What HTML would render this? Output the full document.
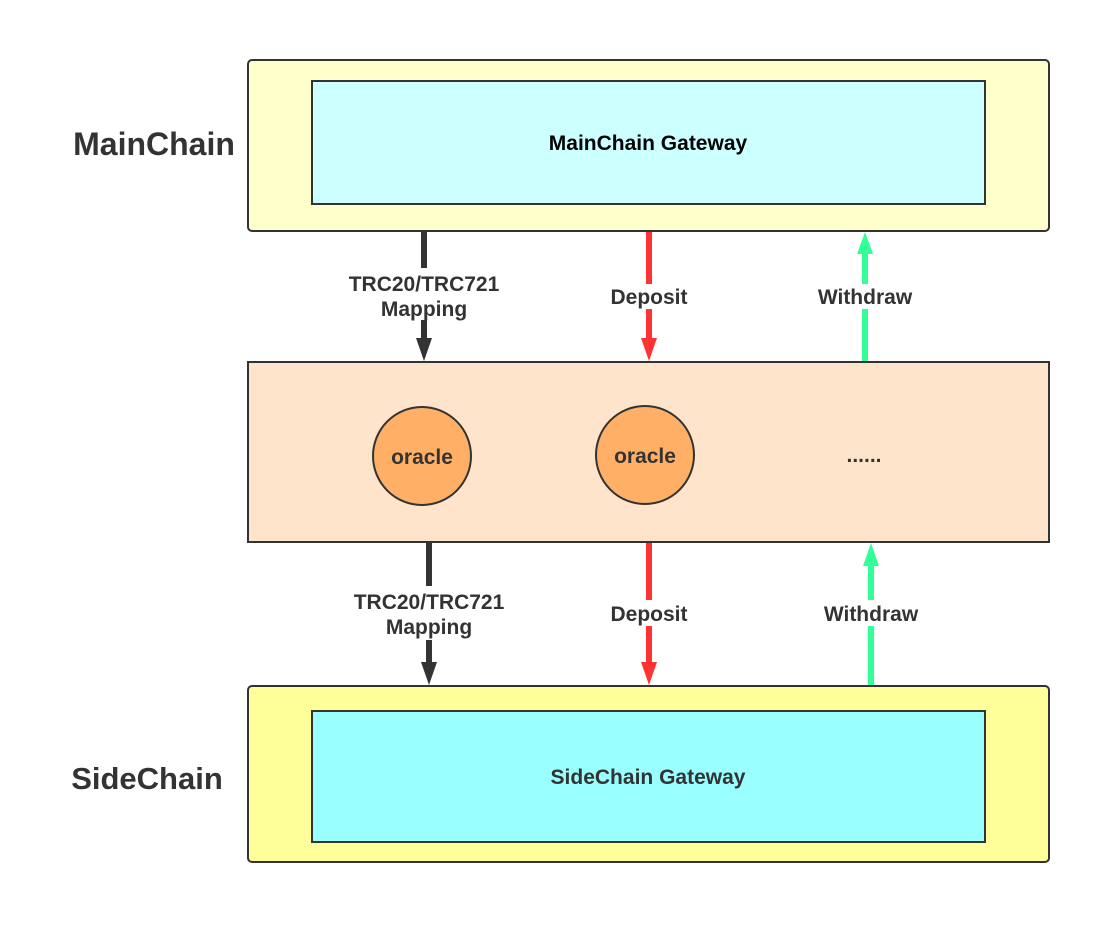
<!DOCTYPE html>
<html><head><meta charset="utf-8"><style>html,body{margin:0;padding:0;background:#fff}</style></head>
<body>
<svg width="1111" height="925" xmlns="http://www.w3.org/2000/svg" font-family="Liberation Sans, sans-serif" font-weight="bold">
<rect x="248" y="60" width="801" height="171" rx="4" fill="#ffffcc" stroke="#333" stroke-width="2"/>
<rect x="312" y="81" width="673" height="123" fill="#ccffff" stroke="#333" stroke-width="2"/>
<text x="648" y="150" font-size="21" text-anchor="middle" fill="#000">MainChain Gateway</text>
<text x="154" y="155" font-size="32" text-anchor="middle" fill="#333">MainChain</text>

<rect x="248" y="362" width="801" height="180" fill="#ffe4cc" stroke="#333" stroke-width="2"/>
<ellipse cx="422" cy="456" rx="49" ry="49" fill="#ffb066" stroke="#333" stroke-width="2"/>
<text x="422" y="464" font-size="21" text-anchor="middle" fill="#333">oracle</text>
<ellipse cx="645" cy="455" rx="49" ry="49" fill="#ffb066" stroke="#333" stroke-width="2"/>
<text x="645" y="463" font-size="21" text-anchor="middle" fill="#333">oracle</text>
<text x="864" y="462" font-size="21" text-anchor="middle" fill="#333">......</text>

<rect x="248" y="686" width="801" height="176" rx="4" fill="#ffff99" stroke="#333" stroke-width="2"/>
<rect x="312" y="711" width="673" height="131" fill="#99ffff" stroke="#333" stroke-width="2"/>
<text x="648" y="784" font-size="21" text-anchor="middle" fill="#333">SideChain Gateway</text>
<text x="147" y="789" font-size="31" text-anchor="middle" fill="#333">SideChain</text>

<line x1="424" y1="232" x2="424" y2="268" stroke="#333" stroke-width="6"/>
<line x1="424" y1="320" x2="424" y2="340" stroke="#333" stroke-width="6"/>
<polygon points="416,338 432,338 424,361" fill="#333"/>
<text x="424" y="291" font-size="21" text-anchor="middle" fill="#333">TRC20/TRC721</text>
<text x="424" y="316" font-size="21" text-anchor="middle" fill="#333">Mapping</text>

<line x1="649" y1="232" x2="649" y2="284" stroke="#ff3333" stroke-width="6"/>
<line x1="649" y1="309" x2="649" y2="340" stroke="#ff3333" stroke-width="6"/>
<polygon points="641,338 657,338 649,361" fill="#ff3333"/>
<text x="649" y="304" font-size="21" text-anchor="middle" fill="#333">Deposit</text>

<line x1="865" y1="361" x2="865" y2="309" stroke="#33ff99" stroke-width="6"/>
<line x1="865" y1="284" x2="865" y2="252" stroke="#33ff99" stroke-width="6"/>
<polygon points="857,254 873,254 865,232" fill="#33ff99"/>
<text x="865" y="304" font-size="21" text-anchor="middle" fill="#333">Withdraw</text>

<line x1="429" y1="543" x2="429" y2="586" stroke="#333" stroke-width="6"/>
<line x1="429" y1="640" x2="429" y2="664" stroke="#333" stroke-width="6"/>
<polygon points="421,662 437,662 429,685" fill="#333"/>
<text x="429" y="609" font-size="21" text-anchor="middle" fill="#333">TRC20/TRC721</text>
<text x="429" y="634" font-size="21" text-anchor="middle" fill="#333">Mapping</text>

<line x1="649" y1="543" x2="649" y2="600" stroke="#ff3333" stroke-width="6"/>
<line x1="649" y1="626" x2="649" y2="664" stroke="#ff3333" stroke-width="6"/>
<polygon points="641,662 657,662 649,685" fill="#ff3333"/>
<text x="649" y="621" font-size="21" text-anchor="middle" fill="#333">Deposit</text>

<line x1="871" y1="685" x2="871" y2="626" stroke="#33ff99" stroke-width="6"/>
<line x1="871" y1="600" x2="871" y2="564" stroke="#33ff99" stroke-width="6"/>
<polygon points="863,566 879,566 871,543" fill="#33ff99"/>
<text x="871" y="621" font-size="21" text-anchor="middle" fill="#333">Withdraw</text>
</svg>
</body></html>
